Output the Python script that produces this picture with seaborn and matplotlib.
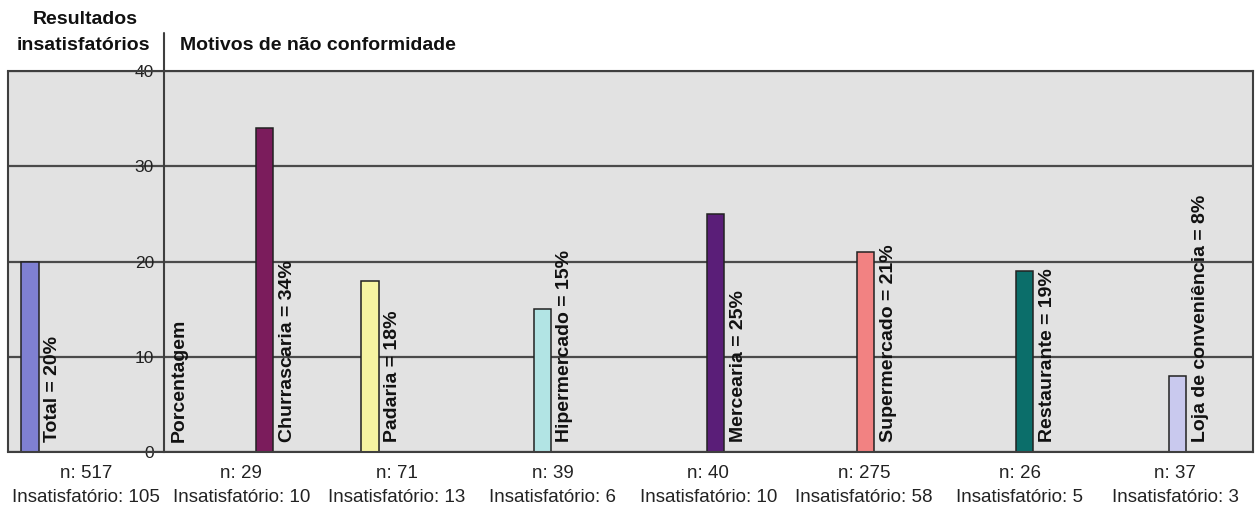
import matplotlib
matplotlib.use("Agg")
import matplotlib.pyplot as plt
import pandas as pd
import seaborn as sns
from matplotlib import font_manager as fm
from matplotlib.transforms import blended_transform_factory

# --- data -------------------------------------------------------------
categories = ["Total", "Churrascaria", "Padaria", "Hipermercado", "Mercearia",
              "Supermercado", "Restaurante", "Loja de conveniência"]
percent = [20, 34, 18, 15, 25, 21, 19, 8]
n_samples = [517, 29, 71, 39, 40, 275, 26, 37]
unsatisfactory = [105, 10, 13, 6, 10, 58, 5, 3]
y_ticks = [0, 10, 20, 30, 40]

# --- styling ----------------------------------------------------------
bar_colors = ["#7F80D2", "#7B1C5C", "#F7F5A2", "#B2E4E4", "#5A1E78",
              "#F28282", "#0B6E6A", "#C9C9EE"]
# where each bar sits inside its category slot (0 = left edge, 1 = right edge)
bar_offsets = [0.141, 0.648, 0.326, 0.432, 0.547, 0.511, 0.533, 0.516]
bar_width = 0.11
frame_color = "#3f3f3f"
grid_color = "#4a4a4a"
panel_color = "#e2e2e2"

sns.set_style("white")
plt.rcParams["font.family"] = ["Liberation Sans", "DejaVu Sans"]

installed = {f.name for f in fm.fontManager.ttflist}
if "Liberation Sans Narrow" in installed:
    narrow_family = ["Liberation Sans Narrow", "Liberation Sans", "DejaVu Sans"]
    ytick_size, xtick_size = 14.5, 16
else:
    narrow_family = ["Liberation Sans", "DejaVu Sans"]
    ytick_size, xtick_size = 12.5, 13.5

W, H = 1256, 515
fig = plt.figure(figsize=(W / 100, H / 100), dpi=100)
ax = fig.add_axes([8 / W, 1 - 452 / H, 1245 / W, 381 / H])
ax.set_facecolor(panel_color)

df = pd.DataFrame({"categoria": categories, "pct": percent})
sns.barplot(data=df, x="categoria", y="pct", hue="categoria",
            order=categories, hue_order=categories, palette=bar_colors,
            saturation=1, legend=False, width=bar_width,
            edgecolor="#222222", linewidth=1.1, errorbar=None, ax=ax)

# shift each bar to its place within the category slot
bar_right = {}
for patch in ax.patches:
    w = patch.get_width()
    idx = int(round(patch.get_x() + w / 2))
    patch.set_x(idx - 0.5 + bar_offsets[idx] - w / 2)
    bar_right[idx] = patch.get_x() + w

ax.set_xlim(-0.5, len(categories) - 0.5)
ax.set_ylim(y_ticks[0], y_ticks[-1])

# vertical value axis sits between the total and the detail groups
ax.spines["left"].set_position(("data", 0.5))
for side in ["left", "right", "top", "bottom"]:
    ax.spines[side].set_visible(True)
    ax.spines[side].set_color(frame_color)
    ax.spines[side].set_linewidth(1.5)
ax.axvline(-0.5, color=frame_color, lw=1.5, clip_on=False, zorder=3)

ax.set_yticks(y_ticks)
ax.set_yticklabels([str(t) for t in y_ticks], family=narrow_family,
                   fontsize=ytick_size, color="#222222")
ax.tick_params(axis="y", direction="out", length=4, width=1.2,
               color=frame_color, pad=3)
ax.yaxis.grid(True, color=grid_color, lw=1.6)
ax.xaxis.grid(False)
ax.set_axisbelow(True)

ax.set_xticks(range(len(categories)))
ax.set_xticklabels([f"n: {n}\nInsatisfatório: {u}"
                    for n, u in zip(n_samples, unsatisfactory)],
                   family=narrow_family, fontsize=xtick_size,
                   color="#222222", linespacing=1.55)
ax.tick_params(axis="x", which="major", length=0, pad=9)
ax.set_xticks([i - 0.5 for i in range(len(categories) + 1)], minor=True)
ax.tick_params(axis="x", which="minor", direction="out", length=4,
               width=1.2, color=frame_color)
ax.set_xlabel("")
ax.set_ylabel("")

# rotated value labels beside each bar
for i, (cat, p) in enumerate(zip(categories, percent)):
    ax.annotate(f"{cat} = {p}%", xy=(bar_right[i], 0), xytext=(4, 7),
                textcoords="offset points", rotation=90, ha="left",
                va="bottom", fontsize=14, fontweight="bold", color="#111111")

ax.annotate("Porcentagem", xy=(0.5, 0), xytext=(5, 7),
            textcoords="offset points", rotation=90, ha="left", va="bottom",
            fontsize=14, fontweight="bold", color="#111111")

# header above the panel
trans = blended_transform_factory(ax.transData, ax.transAxes)
ax.plot([0.5, 0.5], [1, 1 + 38 / 381], transform=trans, color=frame_color,
        lw=1.5, clip_on=False)
fig.text(85 / W, 1 - 20 / H, "Resultados", ha="center", va="center",
         fontsize=14, fontweight="bold", color="#111111")
fig.text(83 / W, 1 - 46 / H, "insatisfatórios", ha="center", va="center",
         fontsize=14, fontweight="bold", color="#111111")
fig.text(180 / W, 1 - 46 / H, "Motivos de não conformidade", ha="left",
         va="center", fontsize=14, fontweight="bold", color="#111111")

fig.savefig("out.png", dpi=100)
